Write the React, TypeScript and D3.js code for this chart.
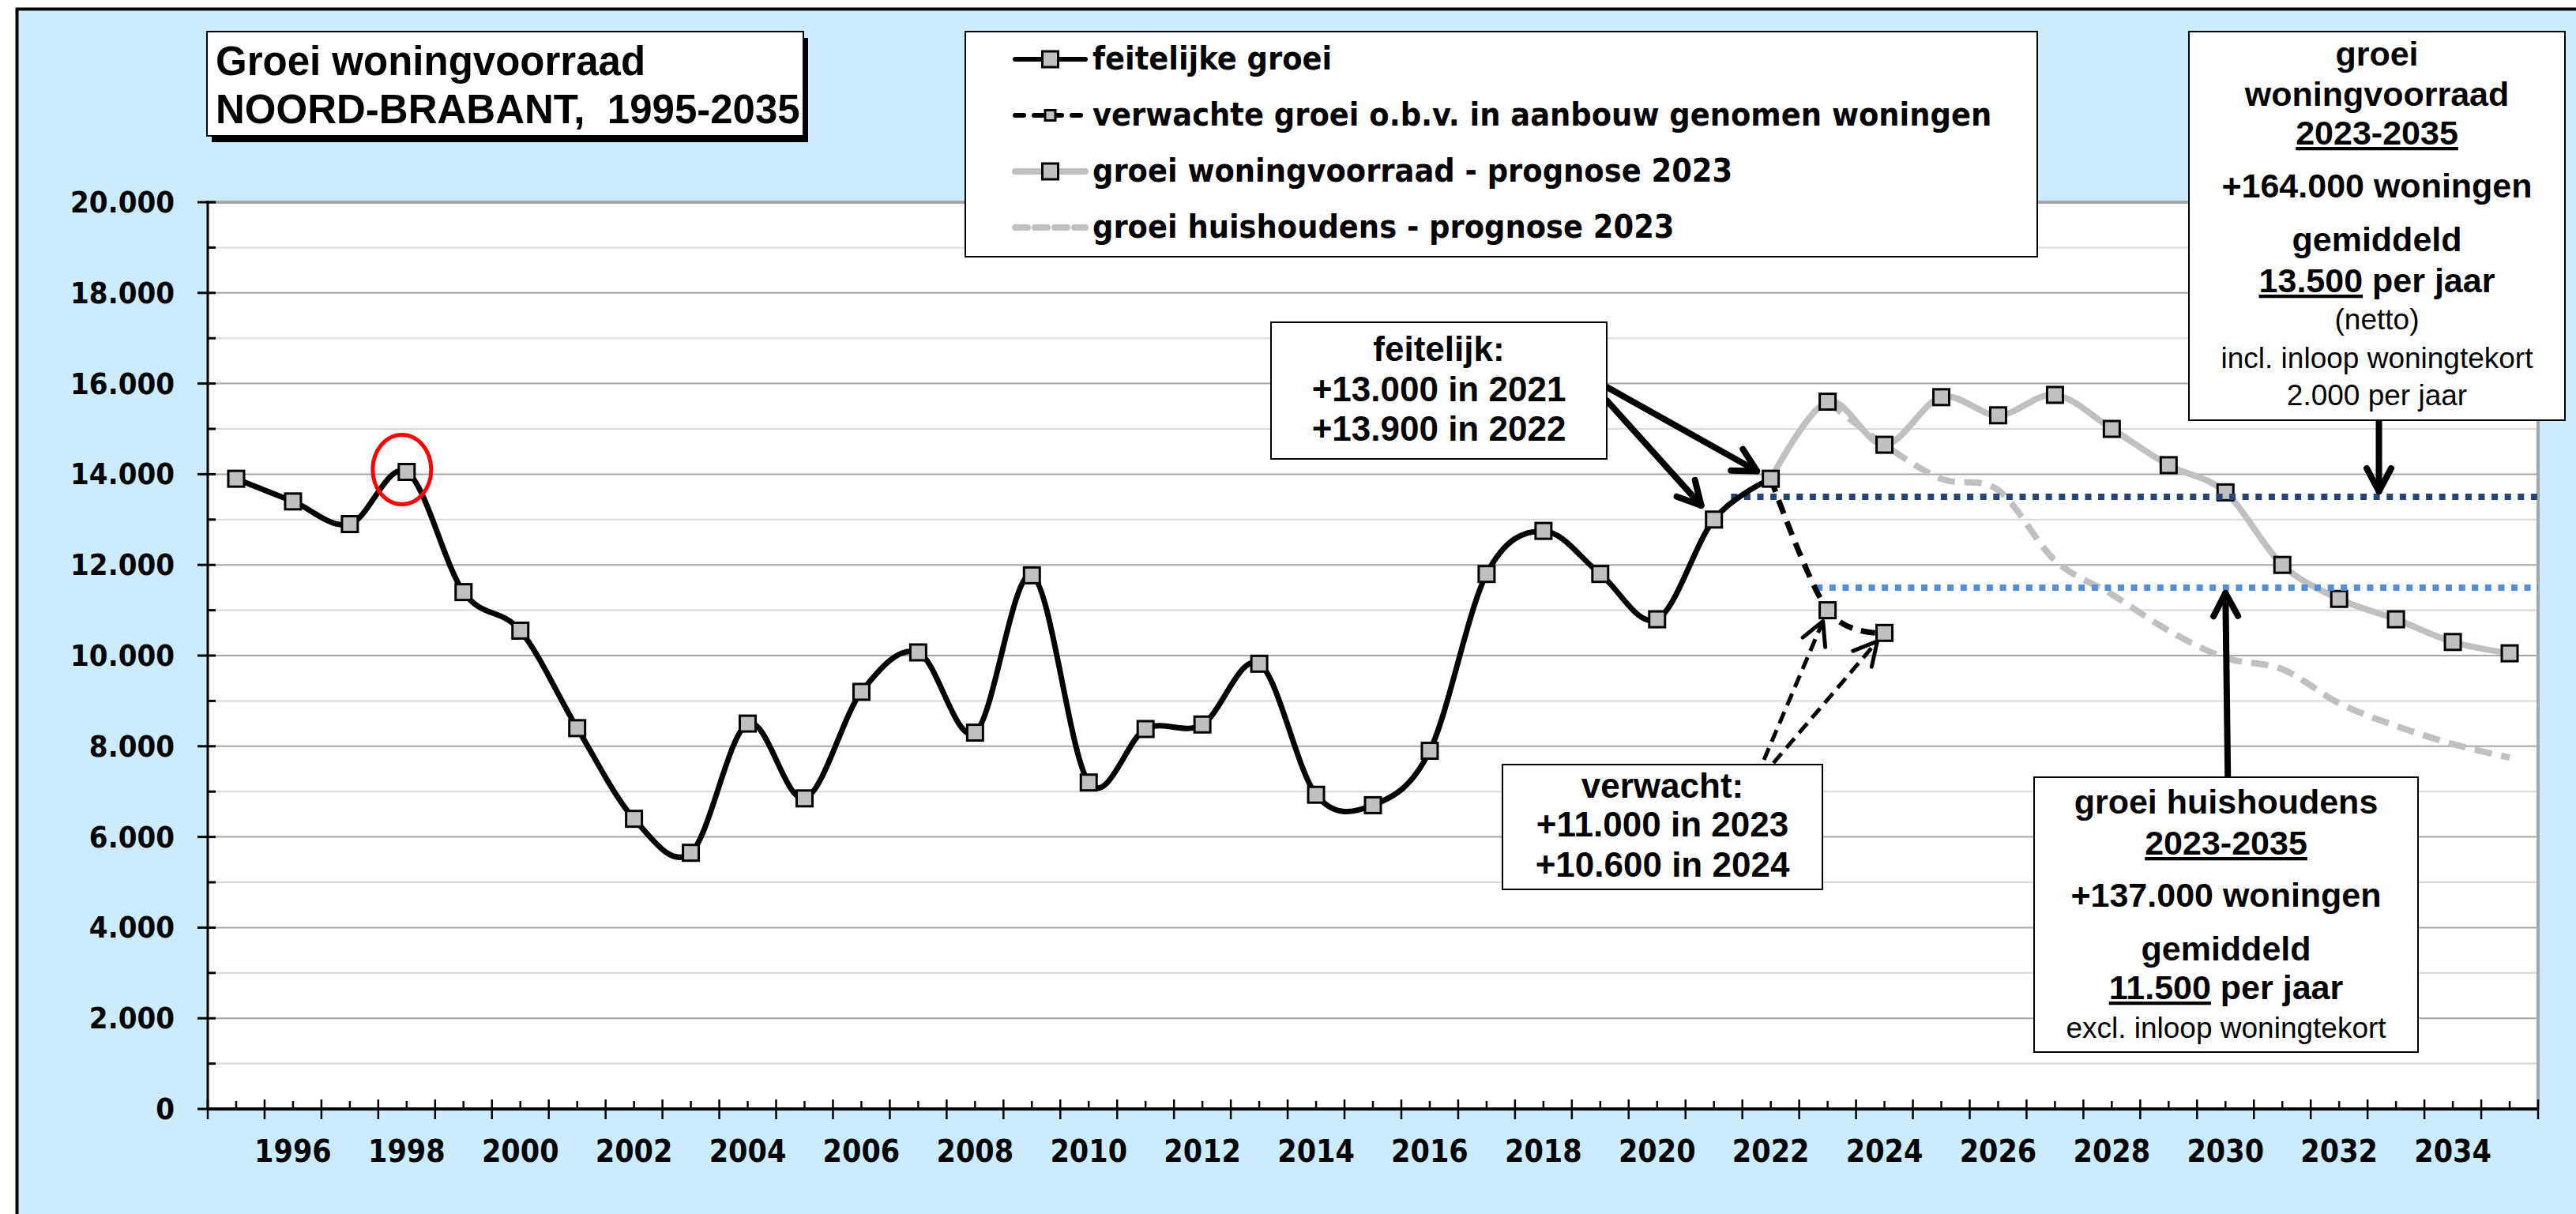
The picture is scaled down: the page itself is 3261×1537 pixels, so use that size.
import React from "react";
import * as d3 from "d3";

// categories
const years = [
  1995, 1996, 1997, 1998, 1999, 2000, 2001, 2002, 2003, 2004, 2005, 2006, 2007, 2008,
  2009, 2010, 2011, 2012, 2013, 2014, 2015, 2016, 2017, 2018, 2019, 2020, 2021, 2022,
  2023, 2024, 2025, 2026, 2027, 2028, 2029, 2030, 2031, 2032, 2033, 2034, 2035,
];
const labelYears = [
  1996, 1998, 2000, 2002, 2004, 2006, 2008, 2010, 2012, 2014, 2016, 2018, 2020, 2022,
  2024, 2026, 2028, 2030, 2032, 2034,
];
const yTicks = [0, 2000, 4000, 6000, 8000, 10000, 12000, 14000, 16000, 18000, 20000];
const yMinor = [1000, 3000, 5000, 7000, 9000, 11000, 13000, 15000, 17000, 19000];

// feitelijke groei 1995-2022
const actualYears = years.slice(0, 28);
const actual = [
  13900, 13400, 12900, 14050, 11400, 10550, 8400, 6400, 5650, 8500, 6850, 9200, 10070, 8300,
  11770, 7200, 8380, 8480, 9820, 6930, 6700, 7900, 11800, 12750, 11800, 10800, 13000, 13900,
];
// verwachte groei o.b.v. in aanbouw genomen woningen
const expectedYears = [2022, 2023, 2024];
const expected = [13900, 11000, 10500];
// groei woningvoorraad - prognose 2023
const progYears = [2022, 2023, 2024, 2025, 2026, 2027, 2028, 2029, 2030, 2031, 2032, 2033, 2034, 2035];
const prognose = [13900, 15600, 14650, 15700, 15300, 15750, 15000, 14200, 13600, 12000, 11250, 10800, 10300, 10050];
// groei huishoudens - prognose 2023
const hhYears = [2023, 2024, 2025, 2026, 2027, 2028, 2029, 2030, 2031, 2032, 2033, 2034, 2035];
const households = [15600, 14650, 13900, 13650, 12100, 11350, 10550, 9950, 9700, 8950, 8450, 8050, 7750];

// gemiddelden 2023-2035
const avgStock = 13500;
const avgHouseholds = 11500;

const W = 3261;
const H = 1537;
const margin = { left: 263, right: 48, top: 256, bottom: 133 };

const AX = "'DejaVu Sans Condensed', 'DejaVu Sans', sans-serif";
const AR = "'Liberation Sans', Arial, sans-serif";

const fmt = d3.formatLocale({ decimal: ",", thousands: ".", grouping: [3], currency: ["€", ""] }).format(",d");

function Arrow({ x1, y1, x2, y2, w, dash }: any) {
  const a = Math.atan2(y2 - y1, x2 - x1);
  const len = 33;
  const sp = (28 * Math.PI) / 180;
  const p1 = [x2 - len * Math.cos(a - sp), y2 - len * Math.sin(a - sp)];
  const p2 = [x2 - len * Math.cos(a + sp), y2 - len * Math.sin(a + sp)];
  return (
    <g stroke="#000" strokeWidth={w} fill="none" strokeLinecap="round" strokeLinejoin="round">
      <line x1={x1} y1={y1} x2={x2} y2={y2} strokeDasharray={dash} strokeLinecap={dash ? "butt" : "round"} />
      <path d={`M${p1[0]},${p1[1]}L${x2},${y2}L${p2[0]},${p2[1]}`} />
    </g>
  );
}

// shorten a line from (x1,y1) towards (x2,y2) by d px
function towards(x1: number, y1: number, x2: number, y2: number, d: number) {
  const L = Math.hypot(x2 - x1, y2 - y1);
  return [x2 - ((x2 - x1) / L) * d, y2 - ((y2 - y1) / L) * d];
}

export default function App() {
  const x = d3
    .scaleBand<number>()
    .domain(years)
    .range([margin.left, W - margin.right])
    .padding(0);
  const bw = x.bandwidth();
  const cx = (yr: number) => (x(yr) as number) + bw / 2;
  const xl = d3.scaleLinear().domain([1994.5, 2035.5]).range([margin.left, W - margin.right]);
  const y = d3.scaleLinear().domain([0, 20000]).range([H - margin.bottom, margin.top]);

  const line = d3
    .line<[number, number]>()
    .x((d) => cx(d[0]))
    .y((d) => y(d[1]))
    .curve(d3.curveCatmullRom.alpha(0));

  const zip = (ys: number[], vs: number[]) => ys.map((yr, i) => [yr, vs[i]] as [number, number]);
  const pActual = zip(actualYears, actual);
  const pExp = zip(expectedYears, expected);
  const pProg = zip(progYears, prognose);
  const pHh = zip(hhYears, households);

  const plotL = margin.left;
  const plotR = W - margin.right;
  const plotT = margin.top;
  const plotB = H - margin.bottom;

  const marker = (d: [number, number], i: number, s = 20) => (
    <rect key={i} x={cx(d[0]) - s / 2} y={y(d[1]) - s / 2} width={s} height={s} fill="#C0C0C0" stroke="#000" strokeWidth={3} />
  );

  // annotation boxes
  const fBox = { x: 1609, y: 408, w: 425, h: 173 };
  const vBox = { x: 1902, y: 968, w: 405, h: 158 };
  const rBox = { x: 2771, y: 40, w: 476, h: 492 };
  const hBox = { x: 2575, y: 984, w: 486, h: 348 };

  // arrows pointing to data
  const a1 = towards(fBox.x + fBox.w, 490, cx(2022), y(13900), 20);
  const a2 = towards(fBox.x + fBox.w, 507, cx(2021), y(13000), 24);
  const v1 = towards(2233, vBox.y - 6, cx(2023), y(11000), 15);
  const v2 = towards(2245, vBox.y - 2, cx(2024), y(10500), 14);
  const arrowX1 = xl(2032.7);
  const arrowX2 = xl(2030.0);

  const legendItems = [
    { label: "feitelijke groei", color: "#000", dash: undefined, w: 6, mk: 20 },
    { label: "verwachte groei o.b.v. in aanbouw genomen woningen", color: "#000", dash: "11 13", w: 6, mk: 13 },
    { label: "groei woningvoorraad - prognose 2023", color: "#C0C0C0", dash: undefined, w: 8, mk: 20 },
    { label: "groei huishoudens - prognose 2023", color: "#C0C0C0", dash: "16 9", w: 8, mk: 0 },
  ];

  const bold = { fontFamily: AR, fontWeight: 700 };
  const reg = { fontFamily: AR, fontWeight: 400 };

  return (
    <svg width={W} height={H} style={{ position: "absolute", left: 0, top: 0, display: "block" }}>
      <rect x={0} y={0} width={W} height={H} fill="#fff" />
      <rect x={21} y={11} width={W - 21} height={H - 11} fill="#CCEBFD" />
      <line x1={21.5} y1={10} x2={21.5} y2={H} stroke="#000" strokeWidth={4} />
      <line x1={20} y1={11.5} x2={W} y2={11.5} stroke="#000" strokeWidth={4} />

      {/* plot area */}
      <rect x={plotL} y={plotT} width={plotR - plotL} height={plotB - plotT} fill="#fff" />
      {yMinor.map((v) => (
        <line key={v} x1={plotL} x2={plotR} y1={y(v)} y2={y(v)} stroke="#D9D9D9" strokeWidth={2} />
      ))}
      {yTicks.map((v) => (
        <line key={v} x1={plotL} x2={plotR} y1={y(v)} y2={y(v)} stroke="#A6A6A6" strokeWidth={v === 20000 ? 4 : 2} />
      ))}
      <line x1={plotR} x2={plotR} y1={plotT} y2={plotB} stroke="#A6A6A6" strokeWidth={4} />

      {/* y axis */}
      <line x1={plotL} x2={plotL} y1={plotT - 2} y2={plotB} stroke="#000" strokeWidth={3} />
      {yTicks.map((v) => (
        <g key={v}>
          <line x1={plotL - 13} x2={plotL + 10} y1={y(v)} y2={y(v)} stroke="#000" strokeWidth={3} />
          <text x={221} y={y(v) + 13} textAnchor="end" fontFamily={AX} fontStretch="condensed" fontWeight={700} fontSize={38}>
            {fmt(v)}
          </text>
        </g>
      ))}
      {yMinor.map((v) => (
        <line key={v} x1={plotL} x2={plotL + 10} y1={y(v)} y2={y(v)} stroke="#000" strokeWidth={3} />
      ))}

      {/* x axis */}
      <line x1={plotL} x2={plotR} y1={plotB} y2={plotB} stroke="#000" strokeWidth={4} />
      {years.map((yr) => (
        <g key={yr}>
          <line x1={x(yr)} x2={x(yr)} y1={plotB - 12} y2={plotB + 13} stroke="#000" strokeWidth={2.5} />
          <line x1={cx(yr)} x2={cx(yr)} y1={plotB - 10} y2={plotB} stroke="#000" strokeWidth={2.5} />
        </g>
      ))}
      <line x1={plotR} x2={plotR} y1={plotB - 12} y2={plotB + 13} stroke="#000" strokeWidth={2.5} />
      {labelYears.map((yr) => (
        <text key={yr} x={cx(yr)} y={plotB + 67} textAnchor="middle" fontFamily={AX} fontStretch="condensed" fontWeight={700} fontSize={39}>
          {yr}
        </text>
      ))}

      {/* series */}
      <path d={line(pHh) || ""} fill="none" stroke="#C0C0C0" strokeWidth={8} strokeDasharray="22 12" />
      <path d={line(pProg) || ""} fill="none" stroke="#C0C0C0" strokeWidth={8} />
      {pProg.slice(1).map((d, i) => marker(d, i))}

      <line x1={xl(2021.3)} x2={plotR} y1={y(avgStock)} y2={y(avgStock)} stroke="#264478" strokeWidth={8} strokeDasharray="8 8.6" />
      <line x1={xl(2022.8)} x2={plotR} y1={y(avgHouseholds)} y2={y(avgHouseholds)} stroke="#558ED5" strokeWidth={8} strokeDasharray="8 8.6" />

      <path d={line(pExp) || ""} fill="none" stroke="#000" strokeWidth={7} strokeDasharray="18 11" />
      {pExp.slice(1).map((d, i) => marker(d, i))}
      <path d={line(pActual) || ""} fill="none" stroke="#000" strokeWidth={7} />
      {pActual.map((d, i) => marker(d, i))}

      {/* red circle 1998 */}
      <ellipse cx={cx(1998) - 6} cy={y(14050) - 3} rx={37} ry={44} fill="none" stroke="#FF0000" strokeWidth={5} />

      {/* title */}
      <rect x={268} y={48} width={755} height={132} fill="#000" />
      <rect x={262} y={40} width={755} height={132} fill="#fff" stroke="#000" strokeWidth={2} />
      <text x={273} y={95} {...bold} fontSize={51}>Groei woningvoorraad</text>
      <text x={273} y={156} {...bold} fontSize={51} style={{ whiteSpace: "pre" }}>NOORD-BRABANT,  1995-2035</text>

      {/* legend */}
      <rect x={1222} y={40} width={1357} height={285} fill="#fff" stroke="#000" strokeWidth={2} />
      {legendItems.map((d, i) => {
        const ly = 75 + i * 71;
        return (
          <g key={i}>
            <line x1={1285} x2={1374} y1={ly} y2={ly} stroke={d.color} strokeWidth={d.w} strokeDasharray={d.dash} strokeLinecap="round" />
            {d.mk > 0 && (
              <rect x={1329.5 - d.mk / 2} y={ly - d.mk / 2} width={d.mk} height={d.mk} fill="#C0C0C0" stroke="#000" strokeWidth={3} />
            )}
            <text x={1383} y={ly + 13} fontFamily={AX} fontStretch="condensed" fontWeight={700} fontSize={41}>
              {d.label}
            </text>
          </g>
        );
      })}

      {/* feitelijk box */}
      <Arrow x1={fBox.x + fBox.w} y1={490} x2={a1[0]} y2={a1[1]} w={8} />
      <Arrow x1={fBox.x + fBox.w} y1={507} x2={a2[0]} y2={a2[1]} w={8} />
      <rect x={fBox.x} y={fBox.y} width={fBox.w} height={fBox.h} fill="#fff" stroke="#000" strokeWidth={2} />
      <g textAnchor="middle" {...bold} fontSize={44} style={{ whiteSpace: "pre" }}>
        <text x={fBox.x + fBox.w / 2} y={457}>feitelijk:</text>
        <text x={fBox.x + fBox.w / 2} y={508}>+13.000  in  2021</text>
        <text x={fBox.x + fBox.w / 2} y={558}>+13.900  in  2022</text>
      </g>

      {/* verwacht box */}
      <Arrow x1={2233} y1={vBox.y - 6} x2={v1[0]} y2={v1[1]} w={5} dash="16 9" />
      <Arrow x1={2245} y1={vBox.y - 2} x2={v2[0]} y2={v2[1]} w={5} dash="16 9" />
      <rect x={vBox.x} y={vBox.y} width={vBox.w} height={vBox.h} fill="#fff" stroke="#000" strokeWidth={2} />
      <g textAnchor="middle" {...bold} fontSize={44} style={{ whiteSpace: "pre" }}>
        <text x={vBox.x + vBox.w / 2} y={1010}>verwacht:</text>
        <text x={vBox.x + vBox.w / 2} y={1059}>+11.000  in  2023</text>
        <text x={vBox.x + vBox.w / 2} y={1110}>+10.600  in  2024</text>
      </g>

      {/* upper right box */}
      <Arrow x1={arrowX1} y1={rBox.y + rBox.h} x2={arrowX1} y2={y(avgStock) - 7} w={8} />
      <rect x={rBox.x} y={rBox.y} width={rBox.w} height={rBox.h} fill="#fff" stroke="#000" strokeWidth={2} />
      <g textAnchor="middle" fontSize={43} style={{ whiteSpace: "pre" }}>
        <text x={rBox.x + rBox.w / 2} y={83} {...bold}>groei</text>
        <text x={rBox.x + rBox.w / 2} y={134} {...bold}>woningvoorraad</text>
        <text x={rBox.x + rBox.w / 2} y={183} {...bold} textDecoration="underline">2023-2035</text>
        <text x={rBox.x + rBox.w / 2} y={250} {...bold}>+164.000 woningen</text>
        <text x={rBox.x + rBox.w / 2} y={318} {...bold}>gemiddeld</text>
        <text x={rBox.x + rBox.w / 2} y={370} {...bold}>
          <tspan textDecoration="underline">13.500</tspan> per jaar
        </text>
        <text x={rBox.x + rBox.w / 2} y={417} {...reg} fontSize={37}>(netto)</text>
        <text x={rBox.x + rBox.w / 2} y={466} {...reg} fontSize={37}>incl.  inloop woningtekort</text>
        <text x={rBox.x + rBox.w / 2} y={513} {...reg} fontSize={37}>2.000 per jaar</text>
      </g>

      {/* lower right box */}
      <Arrow x1={arrowX2 + 3} y1={hBox.y} x2={arrowX2} y2={y(avgHouseholds) + 7} w={8} />
      <rect x={hBox.x} y={hBox.y} width={hBox.w} height={hBox.h} fill="#fff" stroke="#000" strokeWidth={2} />
      <g textAnchor="middle" fontSize={43} style={{ whiteSpace: "pre" }}>
        <text x={hBox.x + hBox.w / 2} y={1030} {...bold}>groei huishoudens</text>
        <text x={hBox.x + hBox.w / 2} y={1082} {...bold} textDecoration="underline">2023-2035</text>
        <text x={hBox.x + hBox.w / 2} y={1148} {...bold}>+137.000 woningen</text>
        <text x={hBox.x + hBox.w / 2} y={1216} {...bold}>gemiddeld</text>
        <text x={hBox.x + hBox.w / 2} y={1265} {...bold}>
          <tspan textDecoration="underline">11.500</tspan> per jaar
        </text>
        <text x={hBox.x + hBox.w / 2} y={1314} {...reg} fontSize={37}>excl. inloop woningtekort</text>
      </g>
    </svg>
  );
}
